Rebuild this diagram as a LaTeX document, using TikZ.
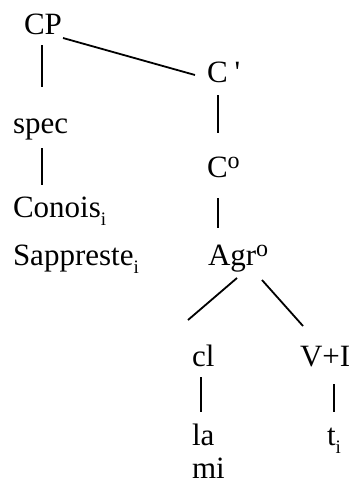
\documentclass[tikz,border=0pt]{standalone}
\usepackage{fontspec}
\setmainfont{Liberation Serif}
\usetikzlibrary{calc}
\newcommand\mysubi{\raisebox{-8pt}{\fontsize{19}{19}\selectfont i}}
\newcommand\mysupo{\raisebox{9pt}{\fontsize{24}{24}\selectfont o}}
\begin{document}
\begin{tikzpicture}[x=1pt,y=-1pt,
  lbl/.style={anchor=base west,inner sep=0pt,outer sep=0pt,font=\fontsize{31}{36}\selectfont},
  edge/.style={line width=1.8pt}]
\useasboundingbox (0,0) rectangle (355,485);
\node[lbl] (CP) at (24,34) {CP};
\node[lbl] (Cbar) at (207,82) {C\hspace{7pt}\textquotesingle};
\node[lbl] (spec) at (13,133) {spec};
\node[lbl] (Co) at (207,177) {C\mysupo};
\node[lbl] (Conois) at (13,217) {Conois\mysubi};
\node[lbl] (Sappreste) at (13,265) {Sappreste\mysubi};
\node[lbl] (Agr) at (208,265) {Agr\mysupo};
\node[lbl] (cl) at (192,366) {cl};
\node[lbl] (VI) at (300,366) {V+I};
\node[lbl] (la) at (192,445) {la};
\node[lbl] (ti) at (327,445) {t\mysubi};
\node[lbl] (mi) at (192,478) {mi};
\draw[edge] ($(CP.base west)+(39,4)$) -- ($(Cbar.base west)+(-12,-7)$);
\draw[edge] ($(CP.base west)+(18,11)$) -- ($(spec.base west)+(29,-46)$);
\draw[edge] ($(spec.base west)+(29,15)$) -- ($(Conois.base west)+(29,-32)$);
\draw[edge] ($(Cbar.base west)+(11,13)$) -- ($(Co.base west)+(11,-44)$);
\draw[edge] ($(Co.base west)+(11,21)$) -- ($(Agr.base west)+(10,-37)$);
\draw[edge] ($(Agr.base west)+(29,13)$) -- ($(cl.base west)+(-4,-46)$);
\draw[edge] ($(Agr.base west)+(54,15)$) -- ($(VI.base west)+(3,-40)$);
\draw[edge] ($(cl.base west)+(9,11)$) -- ($(la.base west)+(9,-33)$);
\draw[edge] ($(VI.base west)+(34,18)$) -- ($(ti.base west)+(7,-33)$);
\end{tikzpicture}
\end{document}
